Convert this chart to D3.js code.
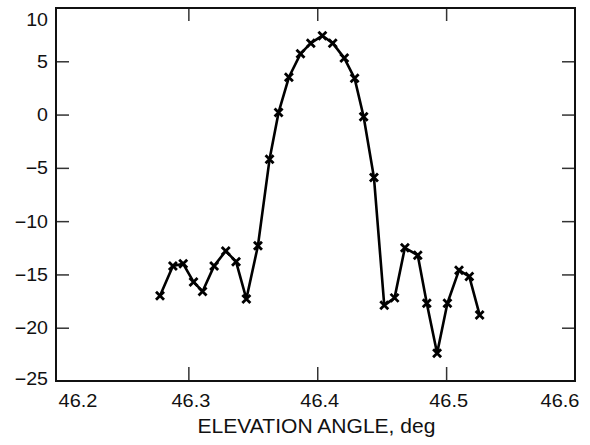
<!DOCTYPE html>
<html>
<head>
<meta charset="utf-8">
<script src="https://cdn.jsdelivr.net/npm/d3@7"></script>
<style>
  body { margin: 0; background: #fff; }
  svg { display: block; }
</style>
</head>
<body>
<svg id="chart" width="590" height="445"></svg>
<script>
// Elevation angle (deg) of each sample
const angles = [46.278, 46.288, 46.296, 46.304, 46.311, 46.320, 46.329, 46.337, 46.345, 46.354,
  46.363, 46.370, 46.378, 46.387, 46.395, 46.404, 46.412, 46.421, 46.429, 46.436,
  46.444, 46.452, 46.460, 46.468, 46.478, 46.485, 46.493, 46.501, 46.510, 46.518, 46.526];
// Measured level at each angle
const values = [-17.0, -14.2, -14.0, -15.7, -16.6, -14.2, -12.8, -13.8, -17.3, -12.3,
  -4.2, 0.2, 3.5, 5.7, 6.7, 7.4, 6.7, 5.3, 3.4, -0.2,
  -5.9, -17.9, -17.2, -12.5, -13.2, -17.7, -22.4, -17.7, -14.6, -15.2, -18.8];

const xTicks = [46.2, 46.3, 46.4, 46.5, 46.6];
const yTicks = [10, 5, 0, -5, -10, -15, -20, -25];
const xTitle = "ELEVATION ANGLE, deg";

const data = angles.map((a, i) => ({ a: a, v: values[i] }));

const m = { left: 56, right: 575, top: 8, bottom: 381 };
const font = "'Liberation Sans', Arial, Helvetica, sans-serif";

const svg = d3.select("#chart");

const x = d3.scaleLinear().domain([46.1973, 46.6]).range([m.left, m.right]);
const y = d3.scaleLinear().domain([-25, 10]).range([m.bottom, m.top]);

// inner ticks on all four sides
const tickStyle = g => {
  g.select(".domain").remove();
  g.selectAll(".tick line").attr("stroke", "#333").attr("stroke-width", 1.5);
};
const innerX = xTicks.filter(t => t > 46.2 && t < 46.6);
const innerY = yTicks.filter(t => t > -25 && t < 10);

svg.append("g").attr("transform", `translate(${m.left},0)`)
  .call(d3.axisRight(y).tickValues(innerY).tickSize(13).tickFormat(""))
  .call(tickStyle);
svg.append("g").attr("transform", `translate(${m.right},0)`)
  .call(d3.axisLeft(y).tickValues(innerY).tickSize(13).tickFormat(""))
  .call(tickStyle);
svg.append("g").attr("transform", `translate(0,${m.bottom})`)
  .call(d3.axisTop(x).tickValues(innerX).tickSize(14).tickFormat(""))
  .call(tickStyle);
svg.append("g").attr("transform", `translate(0,${m.top})`)
  .call(d3.axisBottom(x).tickValues(innerX).tickSize(13).tickFormat(""))
  .call(tickStyle);

// frame
svg.append("rect")
  .attr("x", m.left).attr("y", m.top)
  .attr("width", m.right - m.left).attr("height", m.bottom - m.top)
  .attr("fill", "none")
  .attr("stroke", "#111")
  .attr("stroke-width", 2);

// y tick labels
const fmt = d3.format("");
yTicks.forEach(t => {
  const base = Math.max(26, Math.min(385, y(t) + 6.5));
  svg.append("text")
    .attr("transform", `translate(48,${base}) scale(1.09,1)`)
    .attr("text-anchor", "end")
    .attr("font-family", font)
    .attr("font-size", "18px")
    .attr("fill", "#111")
    .text(fmt(t));
});

// x tick labels
xTicks.forEach(t => {
  const cx = Math.max(78, Math.min(560, x(t) + 2.5));
  svg.append("text")
    .attr("transform", `translate(${cx},407) scale(1.11,1)`)
    .attr("text-anchor", "middle")
    .attr("font-family", font)
    .attr("font-size", "18px")
    .attr("fill", "#111")
    .text(d3.format(".1f")(t));
});

// axis title
svg.append("text")
  .attr("transform", "translate(316.5,433) scale(1.08,1)")
  .attr("text-anchor", "middle")
  .attr("font-family", font)
  .attr("font-size", "19.5px")
  .attr("fill", "#111")
  .text(xTitle);

// data line
const line = d3.line()
  .x(d => x(d.a))
  .y(d => y(d.v));

svg.append("path")
  .datum(data)
  .attr("fill", "none")
  .attr("stroke", "#000")
  .attr("stroke-width", 2.6)
  .attr("stroke-linejoin", "round")
  .attr("d", line);

// x markers
const s = 4;
svg.append("g")
  .selectAll("path")
  .data(data)
  .join("path")
  .attr("d", d => {
    const px = x(d.a), py = y(d.v);
    return `M${px - s},${py - s}L${px + s},${py + s}M${px - s},${py + s}L${px + s},${py - s}`;
  })
  .attr("stroke", "#000")
  .attr("stroke-width", 2.8)
  .attr("fill", "none");
</script>
</body>
</html>
